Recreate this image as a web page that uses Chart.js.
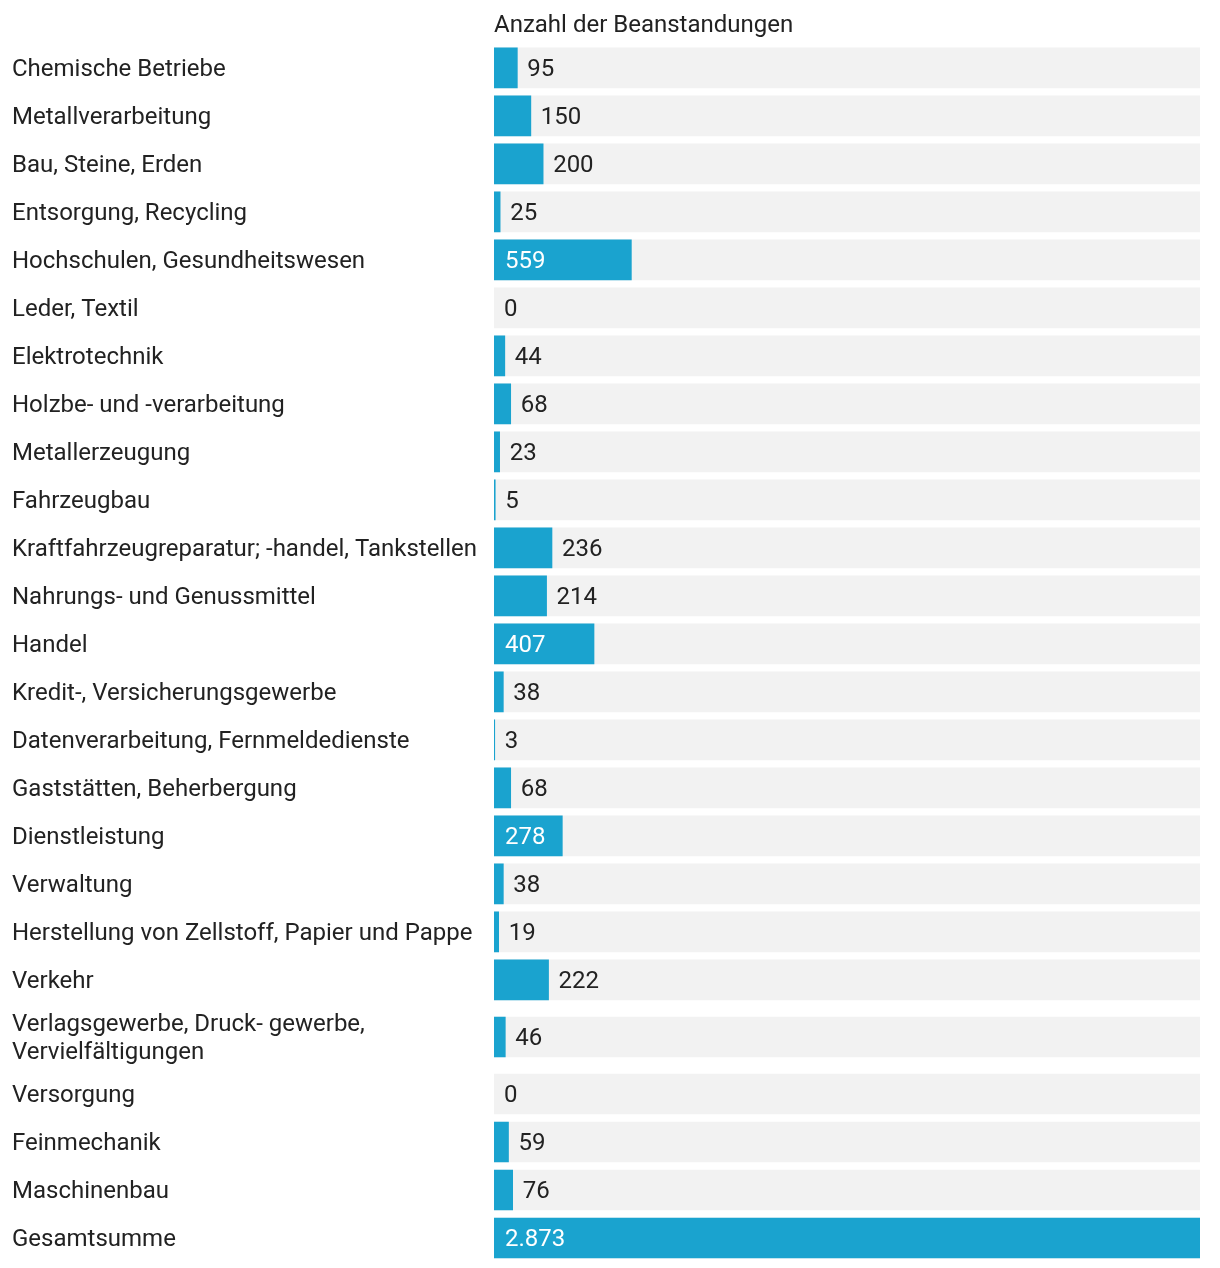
<!DOCTYPE html>
<html>
<head>
<meta charset="utf-8">
<script src="https://cdn.jsdelivr.net/npm/chart.js@4"></script>
<style>
  html, body { margin: 0; padding: 0; background: #ffffff; }
  canvas { display: block; }
</style>
</head>
<body>
<canvas id="c" width="1220" height="1268"></canvas>
<script>
const axisTitle = 'Anzahl der Beanstandungen';
const categories = [
  'Chemische Betriebe',
  'Metallverarbeitung',
  'Bau, Steine, Erden',
  'Entsorgung, Recycling',
  'Hochschulen, Gesundheitswesen',
  'Leder, Textil',
  'Elektrotechnik',
  'Holzbe- und -verarbeitung',
  'Metallerzeugung',
  'Fahrzeugbau',
  'Kraftfahrzeugreparatur; -handel, Tankstellen',
  'Nahrungs- und Genussmittel',
  'Handel',
  'Kredit-, Versicherungsgewerbe',
  'Datenverarbeitung, Fernmeldedienste',
  'Gaststätten, Beherbergung',
  'Dienstleistung',
  'Verwaltung',
  'Herstellung von Zellstoff, Papier und Pappe',
  'Verkehr',
  ['Verlagsgewerbe, Druck- gewerbe,', 'Vervielfältigungen'],
  'Versorgung',
  'Feinmechanik',
  'Maschinenbau',
  'Gesamtsumme'
];
const values = [95, 150, 200, 25, 559, 0, 44, 68, 23, 5, 236, 214, 407, 38, 3, 68, 278, 38, 19, 222, 46, 0, 59, 76, 2873];

const BAR_COLOR = '#1aa3cf';
const TRACK_COLOR = '#f2f2f2';
const TEXT_COLOR = '#222222';
const FONT = 'Roboto, "Noto Sans", sans-serif';

function fmt(v) {
  return String(v).replace(/\B(?=(\d{3})+(?!\d))/g, '.');
}

// row slots: two-line labels take a taller row
const units = categories.map(c => Array.isArray(c) ? 1.375 : 1);
let acc = 0;
const positions = units.map(u => { const c = acc + u / 2; acc += u; return c; });
const totalUnits = acc;
const maxValue = Math.max(...values);

const valueLabels = {
  id: 'valueLabels',
  afterDatasetsDraw(chart) {
    const ctx = chart.ctx;
    const meta = chart.getDatasetMeta(0);
    ctx.save();
    ctx.font = '24px ' + FONT;
    ctx.textBaseline = 'middle';
    ctx.textAlign = 'left';
    meta.data.forEach((bar, i) => {
      const txt = fmt(values[i]);
      const w = ctx.measureText(txt).width;
      const barW = bar.x - bar.base;
      if (barW >= w + 22) {
        ctx.fillStyle = '#ffffff';
        ctx.fillText(txt, bar.base + 11, bar.y + 2);
      } else {
        ctx.fillStyle = TEXT_COLOR;
        ctx.fillText(txt, bar.x + 10, bar.y + 2);
      }
    });
    ctx.restore();
  }
};

new Chart(document.getElementById('c'), {
  type: 'bar',
  data: {
    datasets: [
      {
        data: values.map((v, i) => ({ x: v, y: positions[i] })),
        backgroundColor: (c) => (c.raw && c.raw.x > 0 ? BAR_COLOR : 'rgba(0,0,0,0)'),
        barThickness: 40,
        grouped: false,
        borderWidth: 0
      },
      {
        data: values.map((v, i) => ({ x: maxValue, y: positions[i] })),
        backgroundColor: TRACK_COLOR,
        barThickness: 40,
        grouped: false,
        borderWidth: 0
      }
    ]
  },
  options: {
    indexAxis: 'y',
    responsive: false,
    animation: false,
    events: [],
    layout: { padding: { left: 12, right: 20, top: 6, bottom: 6 } },
    plugins: {
      legend: { display: false },
      tooltip: { enabled: false },
      title: { display: false }
    },
    scales: {
      x: {
        type: 'linear',
        position: 'top',
        min: 0,
        max: maxValue,
        grid: { display: false, drawTicks: false },
        border: { display: false },
        ticks: { display: false },
        title: {
          display: true,
          text: axisTitle,
          align: 'start',
          color: TEXT_COLOR,
          font: { family: FONT, size: 24 },
          padding: { top: 6, bottom: 3 }
        }
      },
      y: {
        type: 'linear',
        reverse: true,
        offset: false,
        min: 0,
        max: totalUnits,
        grid: { display: false, drawTicks: false },
        border: { display: false },
        afterBuildTicks(axis) {
          axis.ticks = positions.map(p => ({ value: p }));
        },
        afterFit(axis) {
          axis.width = 482;
          axis.paddingTop = 0;
          axis.paddingBottom = 0;
        },
        ticks: {
          autoSkip: false,
          crossAlign: 'far',
          padding: 0,
          labelOffset: 2,
          color: TEXT_COLOR,
          font: { family: FONT, size: 24, lineHeight: 1.167 },
          callback: (v, i) => categories[i]
        }
      }
    }
  },
  plugins: [valueLabels]
});
</script>
</body>
</html>
